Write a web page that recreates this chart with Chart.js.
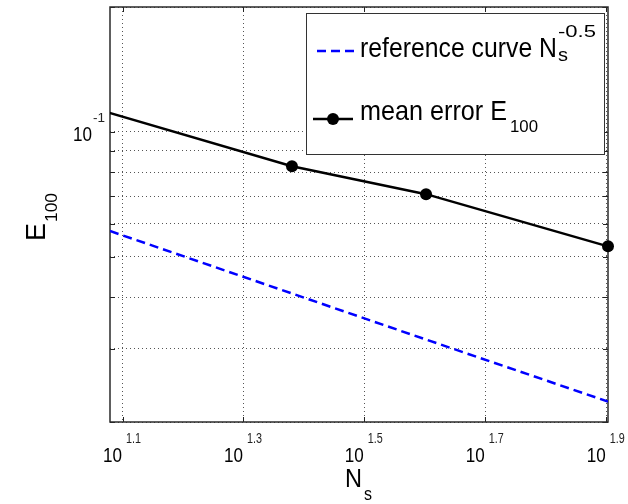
<!DOCTYPE html>
<html>
<head>
<meta charset="utf-8">
<script src="https://cdn.jsdelivr.net/npm/chart.js@4.4.1/dist/chart.umd.min.js"></script>
<style>html, body { margin: 0; padding: 0; background: #fff; }</style>
</head>
<body>
<canvas id="errorChart" width="628" height="504"></canvas>
<script>
// values
const samples = [10, 24, 40, 80];            // N_s of the mean error points
const meanError = [0.12, 0.0827, 0.0708, 0.053];
const refSamples = [12, 24, 40, 80];         // N_s of the reference curve
const refCurve = [0.0577, 0.0408, 0.0316, 0.0224];

// axes
const xTickExponents = ['1.1', '1.3', '1.5', '1.7', '1.9'];
const yGridValues = [0.02, 0.03, 0.04, 0.05, 0.06, 0.07, 0.08, 0.09, 0.1, 0.2];
const yTickLabels = [{ value: 0.1, base: '10', exp: '-1' }];
const legendEntries = [
    { text: 'reference curve N', sub: 's', sup: '-0.5' },
    { text: 'mean error E', sub: '100' }
];

const FONT = '"Liberation Sans", Arial, Helvetica, sans-serif';

// draws text squeezed/stretched to a given width (matlab's font is narrow)
function drawText(ctx, str, x, y, size, width, opts) {
    opts = opts || {};
    ctx.save();
    ctx.font = (opts.bold ? 'bold ' : '') + size + 'px ' + FONT;
    ctx.fillStyle = opts.color || '#000';
    ctx.textAlign = opts.align || 'left';
    ctx.textBaseline = 'alphabetic';
    const sx = width ? width / ctx.measureText(str).width : 1;
    ctx.translate(x, y);
    if (opts.rotate) ctx.rotate(opts.rotate);
    ctx.scale(sx, 1);
    ctx.fillText(str, 0, 0);
    ctx.restore();
    return width || ctx.measureText(str).width;
}

// box, inner ticks, tex-like labels and the legend (matlab look)
const matlabStyle = {
    id: 'matlabStyle',
    beforeDatasetsDraw(chart) {
        const ctx = chart.ctx;
        const a = chart.chartArea;
        const xs = chart.scales.x, ys = chart.scales.y;
        ctx.save();
        ctx.strokeStyle = '#222';
        ctx.lineWidth = 1;
        ctx.beginPath();
        xTickExponents.forEach(e => {
            const px = Math.round(xs.getPixelForValue(Math.pow(10, parseFloat(e)))) + 0.5;
            ctx.moveTo(px, a.bottom); ctx.lineTo(px, a.bottom - 5);
            ctx.moveTo(px, a.top); ctx.lineTo(px, a.top + 5);
        });
        yGridValues.forEach(v => {
            const py = Math.round(ys.getPixelForValue(v)) + 0.5;
            ctx.moveTo(a.left, py); ctx.lineTo(a.left + 5, py);
            ctx.moveTo(a.right, py); ctx.lineTo(a.right - 5, py);
        });
        ctx.stroke();
        ctx.lineWidth = 1.5;
        ctx.strokeStyle = '#2a2a2a';
        ctx.strokeRect(a.left, a.top, a.right - a.left, a.bottom - a.top);
        ctx.restore();
    },
    afterDraw(chart) {
        const ctx = chart.ctx;
        const a = chart.chartArea;
        const xs = chart.scales.x, ys = chart.scales.y;

        // x tick labels 10^e
        xTickExponents.forEach(e => {
            const px = xs.getPixelForValue(Math.pow(10, parseFloat(e)));
            drawText(ctx, '10', px - 0.5, a.bottom + 40, 19.5, 19, { align: 'right' });
            drawText(ctx, e, px + 3.5, a.bottom + 21, 14, 15, { color: '#222' });
        });
        // y tick labels
        yTickLabels.forEach(t => {
            const py = ys.getPixelForValue(t.value);
            drawText(ctx, t.base, a.left - 18, py + 9, 19.5, 19, { align: 'right' });
            drawText(ctx, t.exp, a.left - 17, py - 10, 13, 12, { color: '#222' });
        });

        // axis titles
        drawText(ctx, 'N', 345, 487, 26, 17);
        drawText(ctx, 's', 364, 500, 18, 8);
        drawText(ctx, 'E', 45, 241, 27, 18, { rotate: -Math.PI / 2 });
        drawText(ctx, '100', 57, 222, 17, 29, { rotate: -Math.PI / 2 });

        // legend
        ctx.save();
        ctx.fillStyle = '#fff';
        ctx.fillRect(306, 13, 298, 141);
        ctx.strokeStyle = '#333';
        ctx.lineWidth = 1;
        ctx.strokeRect(306.5, 13.5, 298, 141);

        ctx.strokeStyle = '#0000ff';
        ctx.lineWidth = 2.5;
        ctx.setLineDash([9, 5]);
        ctx.beginPath(); ctx.moveTo(317, 51); ctx.lineTo(354, 51); ctx.stroke();
        ctx.setLineDash([]);

        ctx.strokeStyle = '#000';
        ctx.beginPath(); ctx.moveTo(313, 119); ctx.lineTo(353, 119); ctx.stroke();
        ctx.fillStyle = '#000';
        ctx.beginPath(); ctx.arc(333, 119, 6, 0, Math.PI * 2); ctx.fill();
        ctx.restore();

        const first = legendEntries[0];
        drawText(ctx, first.text, 360, 57, 28, 197);
        drawText(ctx, first.sub, 558, 61, 18, 10);
        drawText(ctx, first.sup, 558, 37, 17, 38);
        const second = legendEntries[1];
        drawText(ctx, second.text, 360, 120, 28, 147);
        drawText(ctx, second.sub, 510, 132, 17, 28);
    }
};

const ctx = document.getElementById('errorChart').getContext('2d');

new Chart(ctx, {
    type: 'line',
    data: {
        datasets: [{
            label: 'reference curve',
            data: refSamples.map((n, i) => ({ x: n, y: refCurve[i] })),
            borderColor: '#0000ff',
            borderWidth: 2.5,
            borderDash: [9, 5],
            pointRadius: 0,
            fill: false,
            tension: 0
        }, {
            label: 'mean error',
            data: samples.map((n, i) => ({ x: n, y: meanError[i] })),
            borderColor: '#000',
            backgroundColor: '#000',
            borderWidth: 2.5,
            pointRadius: 6,
            pointBorderWidth: 0,
            pointBackgroundColor: '#000',
            fill: false,
            tension: 0,
            clip: { left: 0, top: 0, right: 10, bottom: 0 } // keep the last marker whole
        }]
    },
    options: {
        responsive: false,
        animation: false,
        layout: { padding: { left: 110, top: 7, right: 20, bottom: 82 } },
        plugins: {
            legend: { display: false },
            tooltip: { enabled: false }
        },
        scales: {
            x: {
                type: 'logarithmic',
                min: 12,
                max: 80,
                afterBuildTicks: s => { s.ticks = xTickExponents.map(e => ({ value: Math.pow(10, parseFloat(e)) })); },
                ticks: { display: false },
                grid: { color: '#555', lineWidth: 1, drawTicks: false },
                border: { display: false, dash: [1, 3] }
            },
            y: {
                type: 'logarithmic',
                min: 0.02,
                max: 0.2,
                afterBuildTicks: s => { s.ticks = yGridValues.map(v => ({ value: v })); },
                ticks: { display: false },
                grid: { color: '#555', lineWidth: 1, drawTicks: false },
                border: { display: false, dash: [1, 3] }
            }
        }
    },
    plugins: [matlabStyle]
});
</script>
</body>
</html>
